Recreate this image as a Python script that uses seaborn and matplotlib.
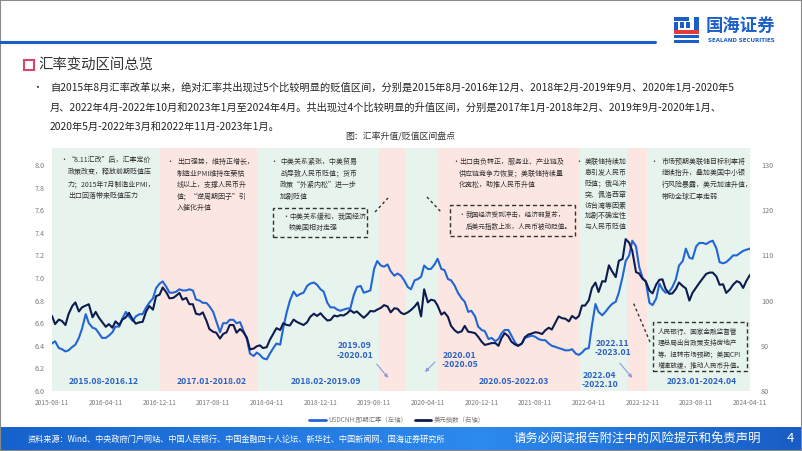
import matplotlib
matplotlib.use("Agg")
import matplotlib.pyplot as plt
import matplotlib.patches as mpatches
from matplotlib.lines import Line2D
import numpy as np
import pandas as pd
import seaborn as sns

# ---------------- data ----------------
usdcnh = [
    6.42, 6.44, 6.38, 6.37, 6.35, 6.36, 6.39, 6.41, 6.47, 6.55,
    6.68, 6.60, 6.56, 6.55, 6.51, 6.47, 6.47, 6.49, 6.52, 6.57, 6.57, 6.64,
    6.70, 6.66, 6.62, 6.66, 6.68, 6.68, 6.74, 6.78, 6.82, 6.91, 6.95, 6.97,
    6.92, 6.87, 6.87, 6.88, 6.90, 6.89, 6.89, 6.90, 6.89, 6.81, 6.80, 6.78,
    6.78, 6.75, 6.70, 6.62, 6.52, 6.60, 6.60, 6.63, 6.63, 6.60, 6.61, 6.54,
    6.46, 6.33, 6.31, 6.34, 6.32, 6.29, 6.28, 6.33, 6.38, 6.42, 6.41, 6.56,
    6.70, 6.80, 6.88, 6.84, 6.86, 6.87, 6.93, 6.95, 6.96, 6.94, 6.90, 6.88,
    6.78, 6.74, 6.74, 6.72, 6.71, 6.72, 6.73, 6.73, 6.85, 6.92, 6.93, 6.87,
    6.88, 6.89, 7.08, 7.15, 7.11, 7.10, 7.12, 7.06, 7.02, 7.04, 7.02, 6.98,
    6.92, 6.90, 6.98, 6.99, 7.01, 7.11, 7.08, 7.08, 7.12, 7.17, 7.08, 7.07,
    6.99, 6.98, 6.93, 6.87, 6.82, 6.79, 6.70, 6.71, 6.66, 6.57, 6.54, 6.53,
    6.46, 6.47, 6.44, 6.46, 6.51, 6.54, 6.54, 6.49, 6.43, 6.40, 6.42, 6.47,
    6.48, 6.49, 6.48, 6.46, 6.45, 6.45, 6.42, 6.40, 6.39, 6.38, 6.37, 6.36,
    6.36, 6.37, 6.33, 6.32, 6.34, 6.37, 6.38, 6.58, 6.77, 6.70, 6.67, 6.70,
    6.74, 6.77, 6.79, 6.87, 7.01, 7.15, 7.20, 7.33, 7.28, 7.10, 7.00, 6.97,
    6.78, 6.76, 6.82, 6.95, 6.90, 6.87, 6.88, 6.92, 6.99, 7.11, 7.15, 7.26,
    7.18, 7.17, 7.28, 7.31, 7.31, 7.30, 7.32, 7.33, 7.26, 7.14, 7.13, 7.14,
    7.17, 7.20, 7.20, 7.22, 7.24, 7.25, 7.26,
]
dxy = [
    96.6, 94.8, 95.8, 95.5, 94.6, 97.0, 98.8, 99.6, 97.6, 98.5,
    98.9, 99.2, 96.3, 97.5, 96.2, 95.3, 94.2, 94.8, 94.0, 95.4, 94.6, 95.8,
    96.3, 97.3, 95.8, 94.9, 95.2, 95.3, 97.6, 98.8, 98.0, 101.0, 101.3, 102.9,
    101.8, 100.5, 100.6, 101.1, 101.7, 100.2, 100.6, 99.2, 99.2, 97.1, 96.9, 97.4,
    95.6, 93.7, 93.1, 92.9, 91.6, 92.6, 93.0, 94.6, 94.6, 92.9, 93.7, 93.1,
    91.8, 89.2, 89.4, 89.9, 90.1, 89.5, 89.7, 91.3, 92.7, 93.9, 93.5, 95.0,
    94.6, 94.5, 95.8, 95.3, 94.9, 94.6, 95.2, 96.4, 97.1, 96.6, 97.2, 96.4,
    95.6, 95.7, 96.7, 96.5, 96.8, 96.7, 97.2, 97.9, 97.3, 97.6, 96.8, 96.2,
    96.9, 97.7, 97.6, 98.0, 98.4, 99.0, 98.7, 97.4, 98.3, 98.2, 97.3, 97.0,
    97.4, 97.9, 98.7, 99.6, 96.5, 102.5, 99.6, 100.2, 100.0, 98.9, 96.9, 97.4,
    96.4, 94.4, 93.4, 92.9, 93.2, 94.4, 93.1, 93.0, 92.8, 92.0, 90.9, 90.2,
    90.4, 90.6, 90.6, 90.0, 91.7, 92.8, 92.1, 90.9, 90.3, 90.0, 90.5, 91.9,
    92.5, 92.7, 93.0, 92.9, 92.6, 93.4, 94.0, 93.6, 95.2, 96.5, 96.1, 96.0,
    95.4, 96.6, 96.0, 96.6, 98.9, 98.9, 100.1, 102.8, 104.0, 101.9, 104.3, 104.2,
    107.8, 106.5, 105.2, 108.8, 109.2, 113.6, 112.8, 111.0, 106.3, 106.0, 104.8, 104.3,
    102.2, 101.6, 103.6, 104.6, 104.7, 102.6, 101.5, 101.6, 102.6, 104.0, 103.2, 102.7,
    100.0, 101.7, 102.9, 103.9, 105.0, 105.9, 106.2, 106.2, 105.3, 103.5, 103.6, 101.7,
    102.5, 103.5, 104.3, 104.0, 102.8, 104.3, 105.7,
]
dates = pd.date_range("2015-08-01", "2024-04-01", freq="SMS") + pd.Timedelta(days=10)

x_ticks = ["2015-08-11", "2016-04-11", "2016-12-11", "2017-08-11", "2018-04-11",
           "2018-12-11", "2019-08-11", "2020-04-11", "2020-12-11", "2021-08-11",
           "2022-04-11", "2022-12-11", "2023-08-11", "2024-04-11"]
left_ticks = [6.0, 6.2, 6.4, 6.6, 6.8, 7.0, 7.2, 7.4, 7.6, 7.8, 8.0]
right_ticks = [80, 90, 100, 110, 120, 130]

region_bounds = ["2015-08-11", "2016-12-11", "2018-02-25", "2019-09-01", "2020-01-01",
                 "2020-05-25", "2022-03-01", "2022-10-01", "2023-01-01", "2024-04-11"]
region_kind = ["贬值", "升值", "贬值", "升值", "贬值", "升值", "贬值", "升值", "贬值"]

series_names = ["USDCNH:即期汇率（左轴）", "美元指数（右轴）"]

# ---------------- styling ----------------
sns.set_theme(style="white")
plt.rcParams["font.family"] = ["Noto Sans CJK SC", "DejaVu Sans"]
plt.rcParams["axes.unicode_minus"] = False

W, H = 802, 451
fig = plt.figure(figsize=(W / 100, H / 100), dpi=100)
fig.patch.set_facecolor("white")

def fx(x):
    return x / W

def fy(y):
    return 1 - y / H

def txt(x, y, s, size, color="#333333", ha="left", va="center", weight="normal", **kw):
    return fig.text(fx(x), fy(y), s, fontsize=size, color=color, ha=ha, va=va,
                    fontweight=weight, **kw)

BLUE = "#2266d6"
NAVY = "#0c1c50"
GREEN_BG = "#e7f3ed"
PINK_BG = "#fce6e1"
LABEL_BLUE = "#2e63c4"

# ---------------- chart ----------------
ax = fig.add_axes([fx(52), fy(391), (750 - 52) / W, (391 - 148) / H])
ax.set_facecolor("white")
bounds = pd.to_datetime(region_bounds)
for i, kind in enumerate(region_kind):
    ax.axvspan(bounds[i], bounds[i + 1], color=GREEN_BG if kind == "贬值" else PINK_BG,
               lw=0, zorder=0)

df = pd.DataFrame({"date": dates, "usdcnh": usdcnh, "dxy": dxy})
sns.lineplot(data=df, x="date", y="usdcnh", ax=ax, color=BLUE, linewidth=1.5, zorder=3)
ax2 = ax.twinx()
sns.lineplot(data=df, x="date", y="dxy", ax=ax2, color=NAVY, linewidth=1.5, zorder=3)

ax.set_xlim(pd.Timestamp(x_ticks[0]), pd.Timestamp(x_ticks[-1]))
ax.set_ylim(6.0, 8.0 + 17 / 113)
ax2.set_ylim(80, 130 + 17 / 4.52)
ax.set_xticks(pd.to_datetime(x_ticks))
ax.set_xticklabels(x_ticks)
ax.set_yticks(left_ticks)
ax.set_yticklabels([f"{v:.1f}" for v in left_ticks])
ax2.set_yticks(right_ticks)
ax2.set_yticklabels([str(v) for v in right_ticks])
for a in (ax, ax2):
    a.set_xlabel("")
    a.set_ylabel("")
    for s in a.spines.values():
        s.set_visible(False)
    a.grid(False)
ax.tick_params(axis="x", length=0, pad=6, labelsize=4.8, labelcolor="#7a7a7a")
ax.tick_params(axis="y", length=0, pad=5, labelsize=5.2, labelcolor="#7a7a7a")
ax2.tick_params(axis="y", length=0, pad=8, labelsize=5.2, labelcolor="#7a7a7a")
if ax.get_legend():
    ax.get_legend().remove()

handles = [Line2D([0], [0], color=BLUE, lw=2), Line2D([0], [0], color=NAVY, lw=2)]
fig.legend(handles, series_names, loc="center", bbox_to_anchor=(fx(397), fy(420)),
           ncol=2, frameon=False, fontsize=4.6, handlelength=2.6, columnspacing=1.2,
           handletextpad=0.4, labelcolor="#777777")

# ---------------- header ----------------
fig.add_artist(Line2D([0, fx(655)], [fy(42), fy(42)], color="#1b5fc6", lw=2.2))
logo = [
    ((674, 17), 15, 3.5, "#1b5fc6"),
    ((674, 22), 4, 8, "#1b5fc6"),
    ((680, 22), 4, 6, "#1b5fc6"),
    ((686, 22), 4, 6, "#1b5fc6"),
    ((694, 17), 5, 14, "#1b5fc6"),
    ((674, 30), 25, 3.5, "#e23b3b"),
    ((674, 35), 25, 3, "#1b5fc6"),
    ((674, 39.5), 25, 3, "#1b5fc6"),
]
for (x0, y0), w, h, c in logo:
    fig.add_artist(mpatches.Rectangle((fx(x0), fy(y0 + h)), w / W, h / H, color=c,
                                      transform=fig.transFigure, lw=0))
txt(706, 26, "国海证券", 12.5, color="#1b5fc6", weight="bold")
txt(708, 40, "SEALAND SECURITIES", 4.0, color="#1b5fc6", weight="bold",
    family=["DejaVu Sans"])

# title
fig.add_artist(mpatches.Rectangle((fx(24), fy(70)), 10 / W, 10 / H, fill=False,
                                  edgecolor="#d9436c", lw=1.5, transform=fig.transFigure))
txt(38, 65, "汇率变动区间总览", 10.4, color="#333333")

# paragraph
txt(32, 88, "•", 7, color="#333333")
para = [
    "自2015年8月汇率改革以来，绝对汇率共出现过5个比较明显的贬值区间，分别是2015年8月-2016年12月、2018年2月-2019年9月、2020年1月-2020年5",
    "月、2022年4月-2022年10月和2023年1月至2024年4月。共出现过4个比较明显的升值区间，分别是2017年1月-2018年2月、2019年9月-2020年1月、",
    "2020年5月-2022年3月和2022年11月-2023年1月。",
]
for i, line in enumerate(para):
    txt(50, 88 + i * 19.5, line, 7.35, color="#222222")

txt(400, 137, "图：汇率升值/贬值区间盘点", 6.4, color="#333333", ha="center")

# ---------------- annotations inside chart ----------------
def block(xb, xt, y0, dy, lines, size=5.0):
    if xb is not None:
        txt(xb, y0, "•", size, color="#333333")
    for i, l in enumerate(lines):
        txt(xt, y0 + i * dy, l, size, color="#333333")

block(60, 68, 160, 12, ["“8.11汇改”后，汇率定价", "政策改变，释放前期贬值压",
                         "力；2015年7月制造业PMI，", "出口回落带来贬值压力"])
block(166, 177, 162, 11.5, ["出口强势，维持正增长，", "制造业PMI维持在荣枯",
                             "线以上，支撑人民币升", "值；“逆周期因子”引", "入催化升值"])
block(270, 280, 162, 11.5, ["中美关系紧张，中美贸易", "战导致人民币贬值；货币",
                             "政策“外紧内松”进一步", "加剧贬值"])
block(282, 289, 217, 11.5, ["中美关系缓和，我国经济", "较美国相对走强"])
block(452, 459, 162, 11.5, ["出口由负转正，服务业、产业链及", "供应链竞争力恢复；美联储持续量",
                             "化宽松，助推人民币升值"])
block(458, 466, 215, 12, ["我国经济受到冲击，经济弱复苏，", "后美元指数上涨，人民币被动贬值。"],
      size=4.8)
block(575, 585, 162, 10.9, ["美联储持续加", "息引发人民币", "贬值；俄乌冲", "突、佩洛西窜",
                             "访台湾等因素", "加剧不确定性", "与人民币贬值"])
block(650, 662, 162, 11.5, ["市场预期美联储目标利率将", "继续抬升，叠加美国中小银",
                             "行风险暴露，美元加速升值，", "带动全球汇率走弱"])
block(None, 658, 332, 11.3, ["人民银行、国家金融监督管", "理总局出台政策支持房地产",
                              "等，扭转市场预期；美国CPI", "增速放缓，推动人民币升值。"],
      size=4.75)

# dashed boxes
for (x0, y0, x1, y1) in [(273, 208, 367, 237), (450, 205, 575, 236), (653, 322, 747, 371)]:
    fig.add_artist(mpatches.Rectangle((fx(x0), fy(y1)), (x1 - x0) / W, (y1 - y0) / H,
                                      fill=False, edgecolor="#333333", lw=1.0,
                                      linestyle=(0, (3, 2)), transform=fig.transFigure))
for (x0, y0, x1, y1) in [(375, 212, 388, 198), (427, 197, 441, 212), (650, 342, 633, 302)]:
    fig.add_artist(Line2D([fx(x0), fx(x1)], [fy(y0), fy(y1)], color="#333333", lw=1.0,
                          linestyle=(0, (2, 2))))

# region labels
LS = 6.2
txt(104, 382, "2015.08-2016.12", LS, color=LABEL_BLUE, ha="center", weight="bold")
txt(212, 382, "2017.01-2018.02", LS, color=LABEL_BLUE, ha="center", weight="bold")
txt(326, 382, "2018.02-2019.09", LS, color=LABEL_BLUE, ha="center", weight="bold")
txt(514, 382, "2020.05-2022.03", LS, color=LABEL_BLUE, ha="center", weight="bold")
txt(702, 381, "2023.01-2024.04", LS, color=LABEL_BLUE, ha="center", weight="bold")
txt(338, 346, "2019.09", LS, color=LABEL_BLUE, weight="bold")
txt(337, 355.5, "-2020.01", LS, color=LABEL_BLUE, weight="bold")
txt(443, 355, "2020.01", LS, color=LABEL_BLUE, weight="bold")
txt(442, 364.5, "-2020.05", LS, color=LABEL_BLUE, weight="bold")
txt(596, 343, "2022.11", LS, color=LABEL_BLUE, weight="bold")
txt(595, 352.5, "-2023.01", LS, color=LABEL_BLUE, weight="bold")
txt(583, 375, "2022.04", LS, color=LABEL_BLUE, weight="bold")
txt(582, 384.5, "-2022.10", LS, color=LABEL_BLUE, weight="bold")

for (x0, y0, x1, y1) in [(375, 362, 390, 380), (437, 360, 423, 374), (618, 361, 634, 380)]:
    fig.add_artist(mpatches.FancyArrowPatch((fx(x0), fy(y0)), (fx(x1), fy(y1)),
                                            transform=fig.transFigure, arrowstyle="-|>",
                                            mutation_scale=5, color="#8c9ad6", lw=0.8))

# ---------------- footer ----------------
fax = fig.add_axes([0, 0, 1, 24 / H])
grad = np.linspace(0, 1, 400)
c0 = np.array([22, 98, 204]) / 255
c1 = np.array([45, 138, 238]) / 255
c2 = np.array([24, 92, 196]) / 255
cols = np.where(grad[:, None] < 0.6,
                c0 + (c1 - c0) * (grad[:, None] / 0.6),
                c1 + (c2 - c1) * ((grad[:, None] - 0.6) / 0.4))
fax.imshow(cols[None, :, :], aspect="auto", extent=[0, 1, 0, 1])
fax.set_axis_off()
txt(28, 439, "资料来源：Wind、中央政府门户网站、中国人民银行、中国金融四十人论坛、新华社、中国新闻网、国海证券研究所",
    5.9, color="white")
txt(513, 439, "请务必阅读报告附注中的风险提示和免责声明", 8.9, color="white")
txt(790, 439, "4", 9.5, color="white", ha="center")

fig.add_artist(mpatches.Rectangle((0, 0), 1, 1, fill=False, edgecolor="#8a8a8a", lw=1.5,
                                  transform=fig.transFigure))

fig.savefig("out.png", dpi=100)
